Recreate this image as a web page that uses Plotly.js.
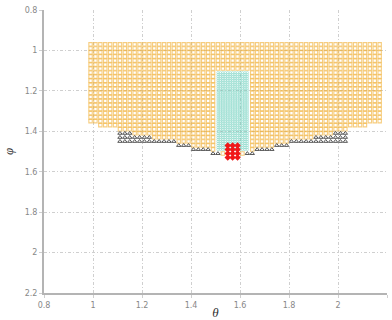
<!DOCTYPE html>
<html>
<head>
<meta charset="utf-8">
<script src="https://cdn.plot.ly/plotly-3.0.1.min.js"></script>
<style>html,body{margin:0;padding:0;background:#fff;}#chart{width:392px;height:320px;}</style>
</head>
<body>
<div id="chart"></div>
<script>
// Grid columns (theta) of the orange / triangle mesh
const colTheta = [0.99,1.01,1.03,1.05,1.07,1.09,1.11,1.13,1.15,1.17,1.19,1.21,1.23,1.25,1.27,1.29,1.31,1.33,1.35,1.37,
                  1.39,1.41,1.43,1.45,1.47,1.49,1.51,1.53,1.55,1.57,1.59,1.61,1.63,1.65,1.67,1.69,1.71,1.73,1.75,1.77,
                  1.79,1.81,1.83,1.85,1.87,1.89,1.91,1.93,1.95,1.97,1.99,2.01,2.03,2.05,2.07,2.09,2.11,2.13,2.15,2.17];
const gridStep = 0.02;
const orangeTop = 0.97;
// lowest orange row in each column
const orangeBottom = [1.35,1.35,1.37,1.37,1.37,1.37,1.39,1.39,1.39,1.41,1.41,1.41,1.41,1.43,1.43,1.43,1.43,1.43,1.45,1.45,
                      1.45,1.47,1.47,1.47,1.47,1.49,1.09,1.09,1.09,1.09,1.09,1.09,1.09,1.49,1.47,1.47,1.47,1.47,1.45,1.45,
                      1.45,1.43,1.43,1.43,1.43,1.43,1.41,1.41,1.41,1.41,1.39,1.39,1.39,1.37,1.37,1.37,1.37,1.35,1.35,1.35];
// isolated orange squares below the cyan block
const orangeExtraTheta = [1.53, 1.61];
const orangeExtraPhi = [1.51, 1.51];
// triangle rows per column (null = none)
const triTop = [null,null,null,null,null,null,1.41,1.41,1.41,1.43,1.43,1.43,1.43,1.45,1.45,1.45,1.45,1.45,1.47,1.47,
                1.47,1.49,1.49,1.49,1.49,1.51,1.51,null,null,null,null,null,1.51,1.51,1.49,1.49,1.49,1.49,1.47,1.47,
                1.47,1.45,1.45,1.45,1.45,1.45,1.43,1.43,1.43,1.43,1.41,1.41,1.41,null,null,null,null,null,null,null];
const triBottom = [null,null,null,null,null,null,1.45,1.45,1.45,1.45,1.45,1.45,1.45,1.45,1.45,1.45,1.45,1.45,1.47,1.47,
                   1.47,1.49,1.49,1.49,1.49,1.51,1.51,null,null,null,null,null,1.51,1.51,1.49,1.49,1.49,1.49,1.47,1.47,
                   1.47,1.45,1.45,1.45,1.45,1.45,1.45,1.45,1.45,1.45,1.45,1.45,1.45,null,null,null,null,null,null,null];
// cyan block (finer mesh)
const cyanTheta = [1.51,1.52,1.53,1.54,1.55,1.56,1.57,1.58,1.59,1.60,1.61,1.62,1.63];
const cyanPhiTop = 1.11, cyanPhiBottom = 1.49, cyanStep = 0.01;
// red block
const redTheta = [1.55, 1.57, 1.59];
const redPhi = [1.47, 1.49, 1.51, 1.53];

const r2 = v => Math.round(v * 1000) / 1000;
function columnPoints(thetas, tops, bottoms, step) {
  const x = [], y = [];
  thetas.forEach((t, i) => {
    const top = Array.isArray(tops) ? tops[i] : tops;
    const bot = bottoms[i];
    if (top === null || bot === null) return;
    const n = Math.round((bot - top) / step);
    for (let j = 0; j <= n; j++) { x.push(t); y.push(r2(top + j * step)); }
  });
  return {x, y};
}
const orange = columnPoints(colTheta, orangeTop, orangeBottom, gridStep);
orangeExtraTheta.forEach((t, i) => { orange.x.push(t); orange.y.push(orangeExtraPhi[i]); });
const tri = columnPoints(colTheta, triTop, triBottom, gridStep);
const cyan = columnPoints(cyanTheta, cyanPhiTop, cyanTheta.map(() => cyanPhiBottom), cyanStep);
const red = {x: [], y: []};
redTheta.forEach(t => redPhi.forEach(p => { red.x.push(t); red.y.push(p); }));

const traces = [
  {type: 'scatter', mode: 'markers', x: orange.x, y: orange.y, name: 'orange',
   marker: {symbol: 'square-open', size: 3.4, color: 'rgba(240,175,50,0.62)', line: {width: 1.1}}},
  {type: 'scatter', mode: 'markers', x: cyan.x, y: cyan.y, name: 'cyan',
   marker: {symbol: 'circle-open', size: 2.4, color: 'rgba(100,205,185,0.5)', line: {width: 0.8}}},
  {type: 'scatter', mode: 'markers', x: tri.x, y: tri.y, name: 'tri',
   marker: {symbol: 'triangle-up-open', size: 3.8, color: '#444', line: {width: 0.9}}},
  {type: 'scatter', mode: 'markers', x: red.x, y: red.y, name: 'red',
   marker: {symbol: 'diamond', size: 5, color: '#f01818', line: {width: 0}}}
];

const axisBase = {
  dtick: 0.2, showgrid: true, gridcolor: '#cfcfcf', griddash: '3px,2px,1px,2px', gridwidth: 1,
  showline: true, linecolor: '#b4b4b4', linewidth: 2, zeroline: false,
  ticks: 'outside', ticklen: 3, tickcolor: '#cfcfcf',
  tickfont: {family: 'DejaVu Sans', size: 8, color: '#888'}, automargin: false
};
const layout = {
  width: 392, height: 320,
  margin: {l: 44, r: 5, t: 10, b: 27},
  showlegend: false,
  paper_bgcolor: '#fff', plot_bgcolor: '#fff',
  xaxis: Object.assign({}, axisBase, {range: [0.8, 2.2],
    title: {text: 'θ', standoff: 2, font: {family: 'Liberation Serif', size: 13, style: 'italic', color: '#333'}}}),
  yaxis: Object.assign({}, axisBase, {range: [2.2, 0.8],
    title: {text: 'φ', standoff: 8, font: {family: 'Liberation Serif', size: 13, style: 'italic', color: '#333'}}})
};
Plotly.newPlot('chart', traces, layout, {displayModeBar: false, staticPlot: true});
</script>
</body>
</html>
